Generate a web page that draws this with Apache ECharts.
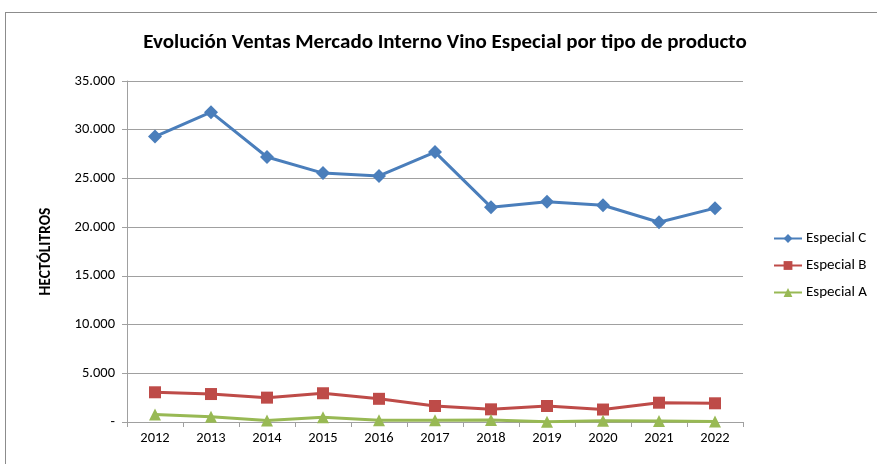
<!DOCTYPE html>
<html>
<head>
<meta charset="utf-8">
<script src="https://cdn.jsdelivr.net/npm/echarts@6/dist/echarts.min.js"></script>
<style>
  html, body { margin: 0; padding: 0; background: #fff; }
  #frame { position: absolute; left: 5px; top: 12px; width: 880px; height: 460px; border: 1px solid #8c8c8c; }
  #chart { width: 877px; height: 464px; position: absolute; left: 0; top: 0; }
</style>
</head>
<body>
<div id="frame"></div>
<div id="chart"></div>
<script>
  // años
  const years = ['2012', '2013', '2014', '2015', '2016', '2017', '2018', '2019', '2020', '2021', '2022'];
  // hectólitros por tipo
  const especialC = [29300, 31800, 27200, 25550, 25250, 27700, 22050, 22600, 22250, 20500, 21950];
  const especialB = [3050, 2870, 2500, 2950, 2380, 1640, 1300, 1640, 1280, 1980, 1920];
  const especialA = [780, 550, 150, 480, 180, 180, 200, 30, 130, 100, 50];
  const yTicks = [0, 5000, 10000, 15000, 20000, 25000, 30000, 35000];

  const font = 'Carlito, Lato, "Open Sans", sans-serif';

  let chart = echarts.init(document.getElementById('chart'));

  function serie(name, data, color, symbol, size) {
    return {
      name: name,
      type: 'line',
      data: data,
      symbol: symbol,
      symbolSize: size,
      lineStyle: { color: color, width: 3 },
      itemStyle: { color: color },
      z: 3
    };
  }

  let option = {
    animation: false,
    title: {
      text: 'Evolución Ventas Mercado Interno Vino Especial por tipo de producto',
      left: 440,
      textAlign: 'center',
      top: 27,
      textStyle: { fontFamily: font, fontSize: 21, fontWeight: 'bold', color: '#000' }
    },
    legend: {
      orient: 'vertical',
      left: 768,
      top: 226,
      itemGap: 12,
      itemWidth: 28,
      itemHeight: 11,
      textStyle: { fontFamily: font, fontSize: 15, color: '#000', padding: [0, 0, 0, -1] },
      data: ['Especial C', 'Especial B', 'Especial A']
    },
    grid: { left: 127, right: 134, top: 81, bottom: 42 },
    xAxis: {
      type: 'category',
      data: years,
      boundaryGap: true,
      axisLine: { lineStyle: { color: '#a0a0a0', width: 1 } },
      axisTick: { show: true, alignWithLabel: false, length: 5, lineStyle: { color: '#a0a0a0' } },
      axisLabel: { fontFamily: font, fontSize: 14.5, color: '#000', margin: 9 }
    },
    yAxis: {
      type: 'value',
      min: 0,
      max: yTicks[yTicks.length - 1],
      interval: 5000,
      name: 'HECTÓLITROS',
      nameLocation: 'middle',
      nameGap: 73,
      nameRotate: 90,
      nameTextStyle: { fontFamily: font, fontSize: 15.5, fontWeight: 'bold', color: '#000' },
      axisLine: { show: true, lineStyle: { color: '#a0a0a0', width: 1 } },
      axisTick: { show: true, length: 5, lineStyle: { color: '#a0a0a0' } },
      splitLine: { lineStyle: { color: '#a0a0a0', width: 1 } },
      axisLabel: {
        fontFamily: font, fontSize: 14.5, color: '#000', margin: 12,
        formatter: function (v) {
          if (v === 0) return '-';
          return (v / 1000).toFixed(3);
        }
      }
    },
    series: [
      serie('Especial C', especialC, '#4a7ebb', 'diamond', 14),
      serie('Especial B', especialB, '#be4b48', 'rect', 12),
      serie('Especial A', especialA, '#98b954', 'triangle', 12)
    ]
  };

  chart.setOption(option);
</script>
</body>
</html>
